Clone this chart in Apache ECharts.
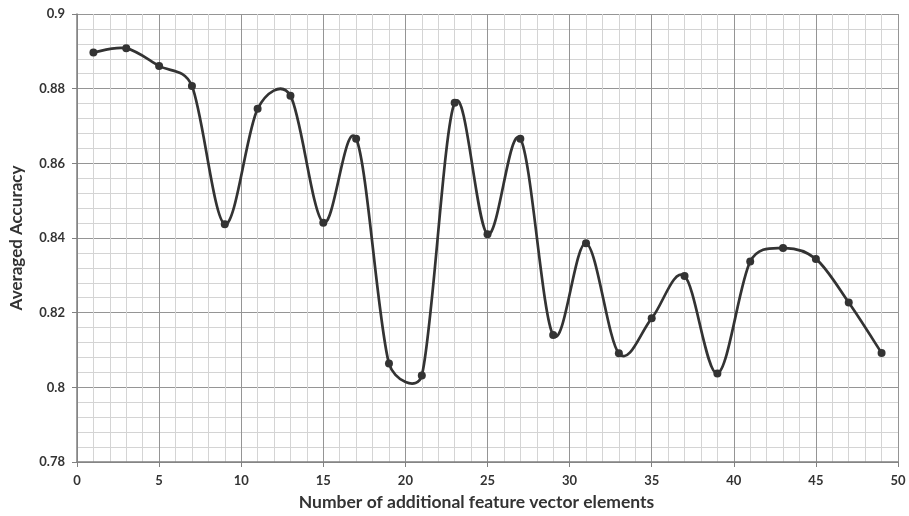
<!DOCTYPE html>
<html>
<head>
<meta charset="utf-8">
<script src="https://cdn.jsdelivr.net/npm/echarts@6/dist/echarts.min.js"></script>
<style>
html,body{margin:0;padding:0;background:#fff;}
#main{width:909px;height:516px;}
</style>
</head>
<body>
<div id="main"></div>
<script>
const featureElements = [1,3,5,7,9,11,13,15,17,19,21,23,25,27,29,31,33,35,37,39,41,43,45,47,49];
const averagedAccuracy = [0.8897,0.8908,0.8861,0.8807,0.8437,0.8746,0.8781,0.8441,0.8666,0.8064,0.8032,0.8762,0.8410,0.8666,0.8140,0.8386,0.8091,0.8185,0.8298,0.8037,0.8337,0.8373,0.8344,0.8227,0.8092];
const xTitle = 'Number of additional feature vector elements';
const yTitle = 'Averaged Accuracy';

const points = featureElements.map((x, i) => [x, averagedAccuracy[i]]);
const LINE = '#333';
const labelStyle = {color:'#333', fontFamily:'Lato', fontWeight:'bold', fontSize:13};

// Spreadsheet-style smoothed segment between data point i and i+1,
// using pixel positions from the chart's own coordinate system.
function renderSegment(params, api) {
  const i = params.dataIndex;
  const n = points.length;
  if (i >= n - 1) return null;
  const P = k => api.coord(points[Math.max(0, Math.min(n - 1, k))]);
  const p0 = P(i - 1), p1 = P(i), p2 = P(i + 1), p3 = P(i + 2);
  const half = Math.hypot(p2[0] - p1[0], p2[1] - p1[1]) / 2;
  function tangent(a, b) {
    let tx = (b[0] - a[0]) / 6, ty = (b[1] - a[1]) / 6;
    const len = Math.hypot(tx, ty);
    if (len > half && len > 0) { const f = half / len; tx *= f; ty *= f; }
    return [tx, ty];
  }
  const t1 = tangent(p0, p2);
  const t2 = tangent(p1, p3);
  return {
    type:'bezierCurve',
    shape:{
      x1:p1[0], y1:p1[1], x2:p2[0], y2:p2[1],
      cpx1:p1[0] + t1[0], cpy1:p1[1] + t1[1],
      cpx2:p2[0] - t2[0], cpy2:p2[1] - t2[1]
    },
    style:{stroke:LINE, lineWidth:2.7, fill:null, lineCap:'round', lineJoin:'round'},
    silent:true
  };
}

const chart = echarts.init(document.getElementById('main'), null, {renderer:'canvas'});
chart.setOption({
  animation:false,
  backgroundColor:'#fff',
  grid:{left:77, right:11, top:14, bottom:49, containLabel:false},
  xAxis:{
    type:'value', min:0, max:50, interval:5,
    name:xTitle, nameLocation:'middle', nameGap:31,
    nameTextStyle:{color:'#333', fontFamily:'Lato', fontWeight:'bold', fontSize:17.5, padding:[0, 22, 0, 0]},
    axisLine:{show:true, lineStyle:{color:'#808080', width:1.5}},
    axisTick:{show:true, length:5, lineStyle:{color:'#808080'}},
    axisLabel:Object.assign({margin:12}, labelStyle),
    splitLine:{show:true, lineStyle:{color:'#959595', width:1}},
    minorTick:{show:false, splitNumber:5},
    minorSplitLine:{show:true, lineStyle:{color:'#d4d4d4', width:1}}
  },
  yAxis:{
    type:'value', min:0.78, max:0.9, interval:0.02,
    name:yTitle, nameLocation:'middle', nameGap:52, nameRotate:90,
    nameTextStyle:{color:'#333', fontFamily:'Lato', fontWeight:'bold', fontSize:17},
    axisLine:{show:true, lineStyle:{color:'#808080', width:1.5}},
    axisTick:{show:true, length:5, lineStyle:{color:'#808080'}},
    axisLabel:Object.assign({margin:12}, labelStyle),
    splitLine:{show:true, lineStyle:{color:'#959595', width:1}},
    minorTick:{show:false, splitNumber:5},
    minorSplitLine:{show:true, lineStyle:{color:'#d4d4d4', width:1}}
  },
  series:[{
    type:'custom',
    data:points,
    encode:{x:0, y:1},
    renderItem:renderSegment,
    z:2
  },{
    type:'scatter',
    data:points,
    symbol:'circle',
    symbolSize:8,
    itemStyle:{color:LINE, opacity:1},
    z:3
  }]
});
</script>
</body>
</html>
